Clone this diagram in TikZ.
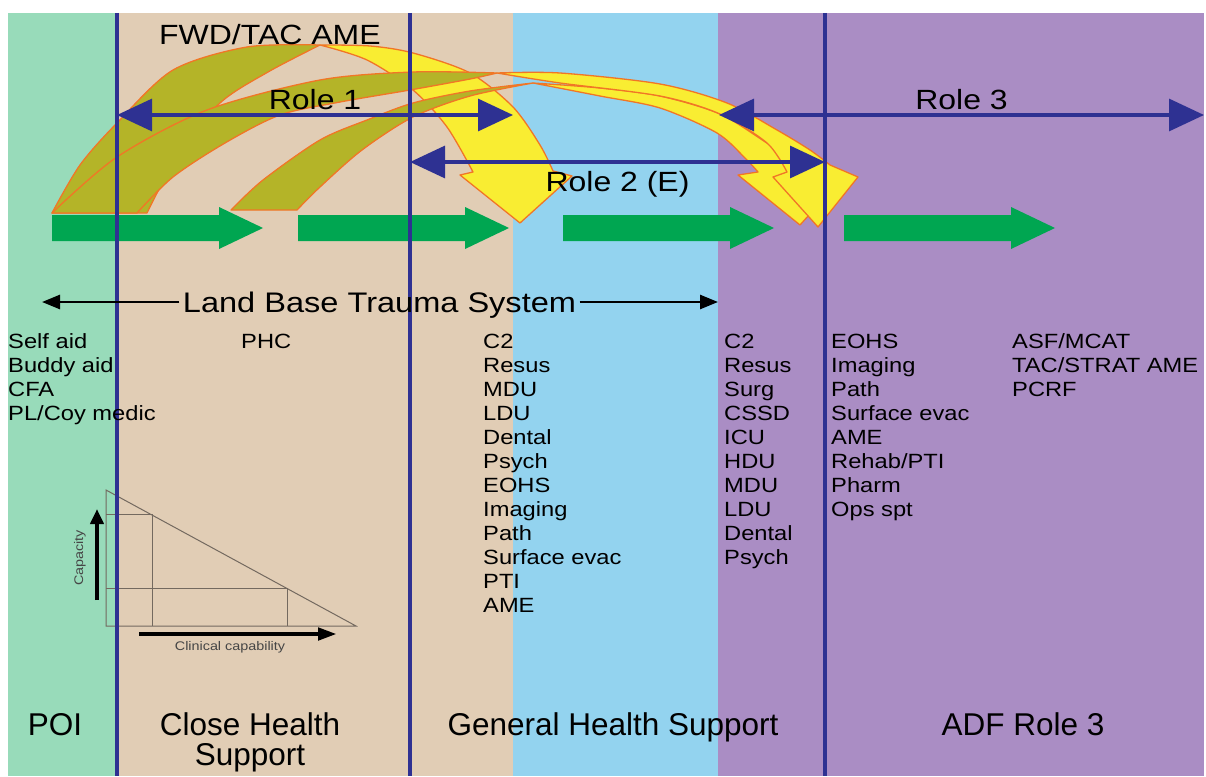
\documentclass[tikz,border=0pt]{standalone}
\usepackage{fontspec}
\setmainfont{Liberation Sans}
\newfontfamily\widesans{Liberation Sans}[FakeStretch=1.15]
\usetikzlibrary{arrows.meta}

\definecolor{poigreen}{RGB}{152,219,186}
\definecolor{closetan}{RGB}{225,205,181}
\definecolor{genblue}{RGB}{147,211,239}
\definecolor{adfpurple}{RGB}{170,141,196}
\definecolor{rolenavy}{RGB}{46,49,146}
\definecolor{flowgreen}{RGB}{0,166,81}
\definecolor{ameolive}{RGB}{180,180,40}
\definecolor{ameyellow}{RGB}{249,237,50}
\definecolor{ameedge}{RGB}{241,118,38}
\definecolor{insetgrey}{RGB}{115,105,95}
\definecolor{insettext}{RGB}{70,70,70}

\newcommand\toplabel{\widesans\fontsize{27.8}{32}\selectfont}
\newcommand\spanlabel{\widesans\fontsize{28.3}{32}\selectfont}
\newcommand\listlabel{\widesans\fontsize{20.6}{24}\selectfont}
\newcommand\bandlabel{\fontsize{31.5}{30}\selectfont}
\newcommand\insetlabel{\widesans\fontsize{12.5}{14}\selectfont}

\begin{document}
\begin{tikzpicture}[x=1pt,y=-1pt,
    roleline/.style={draw=rolenavy,line width=3.2pt,
      arrows={Triangle[length=35pt,width=32pt]-Triangle[length=35pt,width=32pt]}},
    bandline/.style={draw=rolenavy,line width=3.2pt},
    lbarrow/.style={draw=black,line width=2.6pt,-{Triangle[length=18pt,width=14pt]}},
    backpart/.style={fill=ameolive,draw=ameedge,line width=1.3pt,line join=round},
    frontpart/.style={fill=ameyellow,draw=ameedge,line width=1.3pt,line join=round},
    item/.style={anchor=base west,inner sep=0pt,font=\listlabel},
    band/.style={font=\bandlabel,inner sep=0pt}]
  \useasboundingbox (0,0) rectangle (1206,776);

  % health support areas
  \fill[poigreen] (8,13) rectangle (115,776);
  \fill[closetan] (115,13) rectangle (513,776);
  \fill[genblue] (513,13) rectangle (718,776);
  \fill[adfpurple] (718,13) rectangle (1204,776);

  % capacity / capability inset
  \draw[insetgrey,line width=1pt] (106,490) -- (356,626) -- (106,626) -- cycle;
  \draw[insetgrey,line width=1pt] (106,514) -- (152,514) -- (152,626);
  \draw[insetgrey,line width=1pt] (106,588) -- (287,588) -- (287,626);
  \draw[line width=4.5pt,-{Triangle[length=15pt,width=13pt]}] (97,600) -- (97,509);
  \draw[line width=4.5pt,-{Triangle[length=19pt,width=12pt]}] (139,634) -- (337,634);
  \node[rotate=90,font=\insetlabel,text=insettext] (capacity) at (80,558) {Capacity};
  \node[font=\insetlabel,text=insettext] (clincap) at (230,647) {Clinical capability};

  % patient flow
  \foreach \s in {52,298,563,844}
    \fill[flowgreen] (\s,215) -- ++(167,0) -- ++(0,-8) -- ++(44,21) -- ++(-44,21)
      -- ++(0,-8) -- ++(-167,0) -- cycle;

  % AME arcs
  \draw[backpart] plot[smooth] coordinates {(52,213) (80,165) (117,123) (173,70) (247,47) (320,45)}
    -- plot[smooth] coordinates {(320,45) (268,72) (220,103) (178,155) (147,213)} -- cycle;
  \draw[frontpart] plot[smooth] coordinates {(320,45) (370,46) (413,53) (470,73) (513,107) (540,145) (553,171)}
    -- (572,176) -- (520,223) -- (460,175) -- (473,172)
    -- plot[smooth] coordinates {(473,172) (447,127) (413,90) (367,60) (320,45)} -- cycle;

  \draw[backpart] plot[smooth] coordinates {(231,210) (263,180) (320,140) (367,120) (413,103) (470,91) (533,83)}
    -- plot[smooth] coordinates {(533,83) (470,96) (413,117) (362,150) (320,187) (297,210)} -- cycle;
  \draw[frontpart] plot[smooth] coordinates {(533,83) (600,88) (660,96) (720,114) (767,143) (795,160) (812,168)}
    -- (845,175) -- (800,225) -- (738,175) -- (758,172)
    -- plot[smooth] coordinates {(758,172) (745,158) (717,133) (660,108) (600,96) (533,83)} -- cycle;

  \draw[backpart] plot[smooth] coordinates {(52,213) (117,157) (207,110) (320,80) (413,72) (497,73)}
    -- plot[smooth] coordinates {(497,73) (470,79) (410,90) (340,102) (280,115) (225,143) (173,177) (137,213)} -- cycle;
  \draw[frontpart] plot[smooth] coordinates {(497,73) (560,73) (660,84) (727,103) (777,130) (810,150) (830,165)}
    -- (858,177) -- (818,227) -- (773,177) -- (787,172)
    -- plot[smooth] coordinates {(787,172) (767,143) (720,114) (660,96) (560,83) (497,73)} -- cycle;

  % role boundaries
  \foreach \x in {117,410,825}
    \draw[bandline] (\x,13) -- (\x,776);

  \coordinate (r1w) at (117,115);
  \coordinate (r1e) at (513,115);
  \coordinate (r2w) at (410,162);
  \coordinate (r2e) at (825,162);
  \coordinate (r3w) at (719,115);
  \coordinate (r3e) at (1204,115);
  \draw[roleline] (r1w) -- (r1e) node[midway,above,font=\toplabel] (role1) {Role 1};
  \draw[roleline] (r2w) -- (r2e) node[midway,below,yshift=-4pt,font=\toplabel] (role2) {Role 2 (E)};
  \draw[roleline] (r3w) -- (r3e) node[midway,above,font=\toplabel] (role3) {Role 3};

  \node[font=\toplabel,anchor=base west,inner sep=0pt] (fwdtac) at (159,45) {FWD/TAC AME};

  % trauma system span
  \node[font=\spanlabel,anchor=base] (lbts) at (379.5,312) {Land Base Trauma System};
  \coordinate (lbtsw) at (42,302);
  \coordinate (lbtse) at (718,302);
  \draw[lbarrow] (lbts.west |- lbtsw) -- (lbtsw);
  \draw[lbarrow] (lbts.east |- lbtse) -- (lbtse);

  % capabilities
  \foreach \t [count=\i from 0] in {Self aid,Buddy aid,CFA,{PL/Coy medic}}
    \node[item] (pt\i) at (8,{348+24*\i}) {\t};
  \node[item] (phc) at (241,348) {PHC};
  \foreach \t [count=\i from 0] in {C2,Resus,MDU,LDU,Dental,Psych,EOHS,Imaging,Path,Surface evac,PTI,AME}
    \node[item] (rtwoe\i) at (483,{348+24*\i}) {\t};
  \foreach \t [count=\i from 0] in {C2,Resus,Surg,CSSD,ICU,HDU,MDU,LDU,Dental,Psych}
    \node[item] (rtwo\i) at (724,{348+24*\i}) {\t};
  \foreach \t [count=\i from 0] in {EOHS,Imaging,Path,Surface evac,AME,{Rehab/PTI},Pharm,Ops spt}
    \node[item] (rthree\i) at (831,{348+24*\i}) {\t};
  \foreach \t [count=\i from 0] in {{ASF/MCAT},{TAC/STRAT AME},PCRF}
    \node[item] (strat\i) at (1012,{348+24*\i}) {\t};

  % support levels
  \node[band,anchor=base] (poi) at (55,735) {POI};
  \node[band,anchor=north,align=center] (chs) at (250,712.4) {Close Health\\Support};
  \node[band,anchor=base] (ghs) at (613,735) {General Health Support};
  \node[band,anchor=base] (adf) at (1023,735) {ADF Role 3};
\end{tikzpicture}
\end{document}
